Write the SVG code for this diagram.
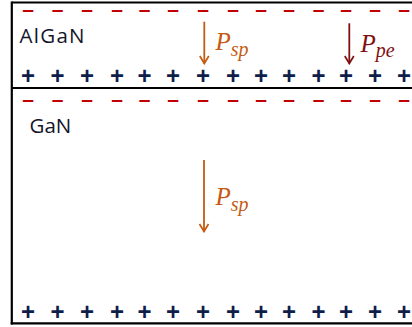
<svg xmlns="http://www.w3.org/2000/svg" width="412" height="327" viewBox="0 0 412 327">
  <style>
    .border { stroke: #000; stroke-width: 2.2; fill: none; }
    .layer { font-family: "Open Sans", "Noto Sans", "Liberation Sans", sans-serif; font-size: 20.5px; fill: #14142a; }
    .minus { font-family: "Liberation Sans", Arial, sans-serif; font-weight: bold; font-size: 21px; fill: #c00000; text-anchor: middle; }
    .plus { font-family: "Liberation Sans", Arial, sans-serif; font-weight: bold; font-size: 24px; fill: #0f1d4a; text-anchor: middle; }
    .pol { font-family: "Liberation Serif", "DejaVu Serif", serif; font-style: italic; font-size: 25px; }
    .sub { font-size: 20px; }
    .orange { fill: #c55a11; }
    .maroon { fill: #7f1010; }
    .arr-o { stroke: #c55a11; stroke-width: 1.8; fill: none; }
    .arr-m { stroke: #7f1010; stroke-width: 1.8; fill: none; }
  </style>
  <defs>
    <marker id="head-o" markerUnits="userSpaceOnUse" viewBox="0 0 10 12" refX="8.5" refY="6" markerWidth="10" markerHeight="12" orient="auto">
      <path d="M1,1.5 L8.5,6 L1,10.5" stroke="#c55a11" stroke-width="1.7" fill="none"/>
    </marker>
    <marker id="head-m" markerUnits="userSpaceOnUse" viewBox="0 0 10 12" refX="8.5" refY="6" markerWidth="10" markerHeight="12" orient="auto">
      <path d="M1,1.5 L8.5,6 L1,10.5" stroke="#7f1010" stroke-width="1.7" fill="none"/>
    </marker>
  </defs>

  <g id="layer-algan">
    <path class="border" d="M11.8,2.5 H412"/>
    <text class="layer" x="19.5" y="42.5" textLength="65" lengthAdjust="spacing">AlGaN</text>
    <text class="minus" x="28 57.5 87 117 144.5 173 203 233 261 289 318.5 346 375 404" y="16">––––––––––––––</text>
    <text class="plus" x="28 57.5 87 117 144.5 173 203 233 261 289 318.5 346 375 404" y="84.3">++++++++++++++</text>
  </g>

  <g id="layer-gan">
    <path class="border" d="M11.8,88 H412"/>
    <path class="border" d="M11.8,1.5 V324.4"/>
    <path class="border" d="M10.7,323.3 H412"/>
    <text class="layer" x="29.5" y="133.2">GaN</text>
    <text class="minus" x="28 57.5 87 117 144.5 173 203 233 261 289 318.5 346 375 404" y="105.8">––––––––––––––</text>
    <text class="plus" x="28 57.5 87 117 144.5 173 203 233 261 289 318.5 346 375 404" y="320.3">++++++++++++++</text>
  </g>

  <g id="connectors">
    <line class="arr-o" x1="204.3" y1="21.7" x2="204.3" y2="63.5" marker-end="url(#head-o)"/>
    <line class="arr-m" x1="349.3" y1="23.3" x2="349.3" y2="63.5" marker-end="url(#head-m)"/>
    <line class="arr-o" x1="204" y1="160" x2="204" y2="231.5" marker-end="url(#head-o)"/>
  </g>

  <g id="labels">
    <text class="pol orange" x="215.5" y="50">P<tspan class="sub" dy="6">sp</tspan></text>
    <text class="pol maroon" x="360.5" y="51.7">P<tspan class="sub" dy="5">pe</tspan></text>
    <text class="pol orange" x="215.5" y="205">P<tspan class="sub" dy="6">sp</tspan></text>
  </g>
</svg>
